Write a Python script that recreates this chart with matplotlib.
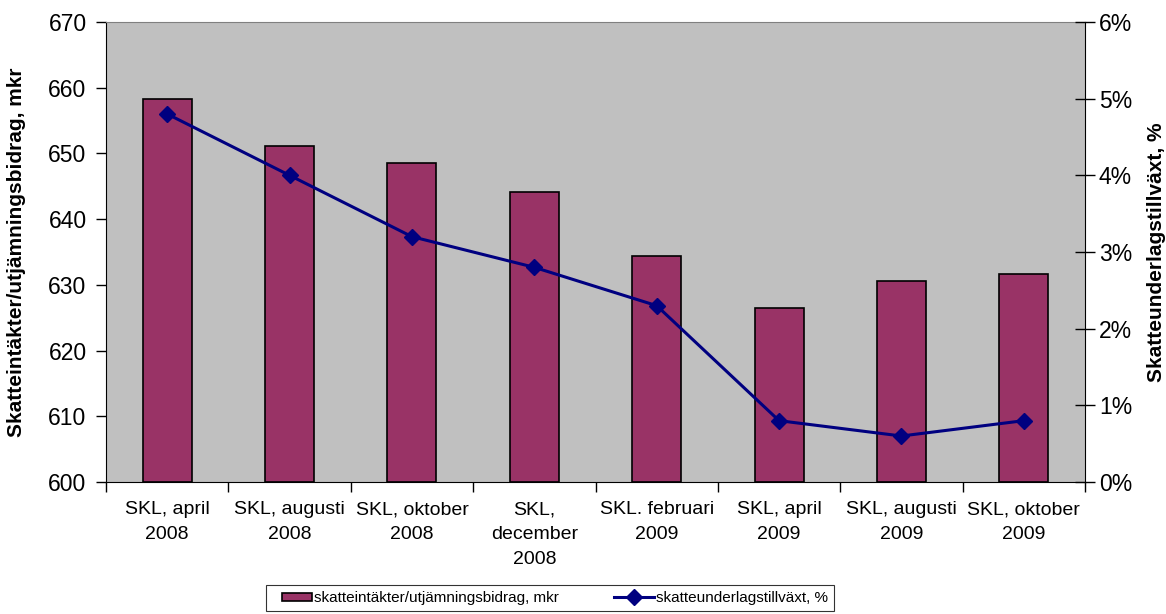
import matplotlib
matplotlib.use("Agg")
import matplotlib.pyplot as plt
import matplotlib.ticker as ticker
from matplotlib.legend_handler import HandlerPatch
from matplotlib.patches import Rectangle
import numpy as np

plt.rcParams.update({
    "font.family": ["Liberation Sans", "DejaVu Sans"],
    "font.size": 14,
})

# ── Data ────────────────────────────────────────────────────────────────────
categories = [
    "SKL, april\n2008", "SKL, augusti\n2008", "SKL, oktober\n2008",
    "SKL,\ndecember\n2008", "SKL. februari\n2009", "SKL, april\n2009",
    "SKL, augusti\n2009", "SKL, oktober\n2009",
]
intakter = [658.3, 651.2, 648.5, 644.2, 634.4, 626.5, 630.6, 631.7]
tillvaxt = [4.8, 4.0, 3.2, 2.8, 2.3, 0.8, 0.6, 0.8]

BAR_COLOR = "#993366"
LINE_COLOR = "#000080"


def small_patch(legend, orig_handle, xdescent, ydescent, width, height, fontsize):
    # Excel-style legend key: narrow box at the right of the handle area
    w = width * 0.75
    return Rectangle((width - w - xdescent, -ydescent + height * 0.05), w, height * 0.8)


fig = plt.figure(figsize=(11.66, 6.14), dpi=100)
ax = fig.add_axes([106 / 1166, 1 - 482 / 614, 979 / 1166, 460 / 614])
ax.set_facecolor("#C0C0C0")

x = np.arange(len(categories))
bars = ax.bar(x, [v - 600 for v in intakter], bottom=600, width=0.4,
              color=BAR_COLOR, edgecolor="black", linewidth=1.2,
              label="skatteintäkter/utjämningsbidrag, mkr")
bar_key = bars.patches[0]

ax.set_xlim(-0.5, len(categories) - 0.5)
ax.set_ylim(600, 670)
ax.set_yticks(range(600, 671, 10))
ax.set_xticks(x)
ax.set_xticklabels(categories, fontsize=14, linespacing=1.6)
ax.tick_params(axis="x", which="major", length=0, pad=14)
ax.xaxis.set_minor_locator(ticker.FixedLocator(np.arange(-0.5, len(categories), 1)))
ax.tick_params(axis="x", which="minor", length=7, width=1, direction="out")
ax.tick_params(axis="y", length=7, width=1, direction="out", pad=7,
               labelsize=16.5)
ax.set_ylabel("Skatteintäkter/utjämningsbidrag, mkr", fontweight="bold",
              fontsize=15)
ax.yaxis.set_label_coords(-80 / 979, 0.5)
ax.spines["top"].set_color("#808080")
ax.spines["right"].set_visible(False)

ax2 = ax.twinx()
line, = ax2.plot(x, tillvaxt, color=LINE_COLOR, linewidth=2.2, marker="D",
                 markersize=8, label="skatteunderlagstillväxt, %")
ax2.set_ylim(0, 6)
ax2.set_yticks(range(0, 7))
ax2.yaxis.set_major_formatter(ticker.FuncFormatter(lambda v, p: f"{v:.0f}%"))
ax2.tick_params(axis="y", length=14, width=1, direction="inout", pad=3,
                labelsize=16.5)
ax2.set_ylabel("Skatteunderlagstillväxt, %", fontweight="bold", fontsize=15)
ax2.yaxis.set_label_coords(1 + 62 / 979, 0.5)
for s in ["top", "left", "bottom"]:
    ax2.spines[s].set_visible(False)

leg = fig.legend(handles=[bar_key, line],
                 labels=["skatteintäkter/utjämningsbidrag, mkr",
                         "skatteunderlagstillväxt, %"],
                 loc="center", bbox_to_anchor=(550 / 1166, 1 - 598 / 614),
                 ncol=2, frameon=True, fancybox=False, edgecolor="black",
                 fontsize=11, handlelength=2.6, columnspacing=3.6,
                 borderpad=0.4, handletextpad=0.15, borderaxespad=0,
                 handler_map={bar_key: HandlerPatch(patch_func=small_patch)})
leg.get_frame().set_linewidth(0.8)

fig.savefig("out.png", dpi=100)
